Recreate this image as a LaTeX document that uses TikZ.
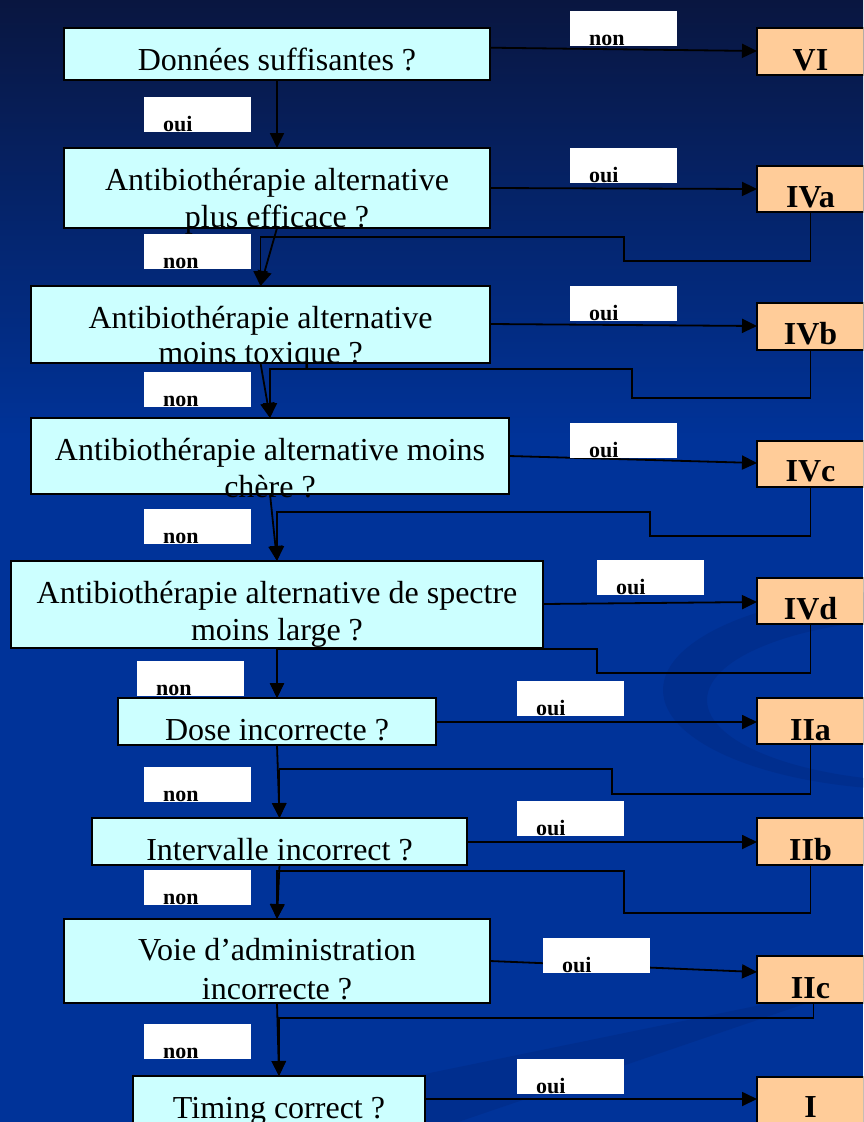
\documentclass[tikz,border=0pt]{standalone}
\usepackage{fontspec}
\setmainfont{Liberation Serif}
\usetikzlibrary{arrows.meta}
\definecolor{bgblue}{RGB}{0,51,153}
\definecolor{bgtop}{RGB}{9,22,64}
\definecolor{bgdark}{RGB}{0,45,140}
\definecolor{qfill}{RGB}{204,255,255}
\definecolor{rfill}{RGB}{255,204,153}
\tikzset{
 qbox/.style={draw=black, line width=2pt, fill=qfill, inner sep=0pt, outer sep=0pt},
 rbox/.style={draw=black, line width=2pt, fill=rfill, inner sep=0pt, outer sep=0pt},
 qtext/.style={font=\fontsize{32}{37}\selectfont, inner sep=0pt, anchor=base},
 rtext/.style={font=\fontsize{32}{37}\selectfont\bfseries, inner sep=0pt, anchor=base},
 lbl/.style={fill=white, inner sep=0pt, outer sep=0pt, minimum width=107pt, minimum height=35pt, anchor=north west},
 ltext/.style={font=\fontsize{22}{26}\selectfont\bfseries, inner sep=0pt, anchor=base west},
 conn/.style={line width=1.8pt, draw=black},
 arr/.style={conn, -{Triangle[length=15pt,width=14pt]}},
}
\newcommand\mkbox[6]{\node[#2, minimum width={#5-#3}, minimum height={#6-#4}] (#1) at ({(#3+#5)/2},{(#4+#6)/2}) {};}
\newcommand\mklbl[4]{\node[lbl] (#1) at (#2,#3) {};\node[ltext] (#1t) at ([xshift=19pt,yshift=1pt]#1.south west) {#4};}
\begin{document}
\begin{tikzpicture}[x=1pt,y=-1pt]
\useasboundingbox (0,0) rectangle (863,1122);
\clip (0,0) rectangle (863,1122);
% background
\fill[bgblue] (0,0) rectangle (863,1122);
\shade[top color=bgtop, bottom color=bgblue] (0,0) rectangle (863,440);
\fill[bgdark, opacity=0.8, even odd rule] (920,690) ellipse [x radius=257, y radius=100] (935,700) ellipse [x radius=228, y radius=82];
\fill[bgdark, opacity=0.8] (863,984) -- (420,1075) -- (420,1135) -- cycle;

% question boxes
\mkbox{b1}{qbox}{64}{28}{490}{80}
\mkbox{b2}{qbox}{64}{148}{490}{228}
\mkbox{b3}{qbox}{31}{286}{490}{363}
\mkbox{b4}{qbox}{31}{418}{509}{494}
\mkbox{b5}{qbox}{11}{561}{543}{648}
\mkbox{b6}{qbox}{118}{698}{436}{745}
\mkbox{b7}{qbox}{92}{818}{467}{865}
\mkbox{b8}{qbox}{64}{919}{490}{1003}
\mkbox{b9}{qbox}{133}{1076}{425}{1140}
% result boxes
\mkbox{r1}{rbox}{757}{28}{864}{75}
\mkbox{r2}{rbox}{757}{166}{864}{212}
\mkbox{r3}{rbox}{757}{303}{864}{350}
\mkbox{r4}{rbox}{757}{441}{864}{487}
\mkbox{r5}{rbox}{757}{578}{864}{624}
\mkbox{r6}{rbox}{757}{698}{864}{744}
\mkbox{r7}{rbox}{757}{818}{864}{865}
\mkbox{r8}{rbox}{757}{956}{864}{1003}
\mkbox{r9}{rbox}{757}{1077}{864}{1140}

% connectors: oui/non to results
\draw[arr] ([yshift=-19.7pt]b1.north east) -- ([yshift=-23pt]r1.north west);
\draw[arr] ([yshift=-40pt]b2.north east) -- ([yshift=-23pt]r2.north west);
\draw[arr] ([yshift=-38pt]b3.north east) -- ([yshift=-23pt]r3.north west);
\draw[arr] ([yshift=-38pt]b4.north east) -- ([yshift=-22pt]r4.north west);
\draw[arr] ([yshift=-43pt]b5.north east) -- ([yshift=-24pt]r5.north west);
\draw[arr] ([yshift=-24pt]b6.north east) -- ([yshift=-24pt]r6.north west);
\draw[arr] ([yshift=-24pt]b7.north east) -- ([yshift=-24pt]r7.north west);
\draw[arr] ([yshift=-42pt]b8.north east) -- ([yshift=-16pt]r8.north west);
\draw[arr] ([yshift=-23pt]b9.north east) -- ([yshift=-22pt]r9.north west);
% connectors: down the chain
\draw[arr] (b1.south) -- (b2.north);
\draw[arr] (b2.south) -- (b3.north);
\draw[arr] (b3.south) -- (b4.north);
\draw[arr] (b4.south) -- (b5.north);
\draw[arr] (b5.south) -- (b6.north);
\draw[arr] (b6.south) -- (b7.north);
\draw[arr] (b7.south) -- (b8.north);
\draw[arr] (b8.south) -- (b9.north);
% connectors: results back to the chain
\draw[arr] (r2.south) |- (624,261) -- (624,237) -| (b3.north);
\draw[arr] (r3.south) |- (632,398) -- (632,369) -| (b4.north);
\draw[arr] (r4.south) |- (650,536) -- (650,512) -| (b5.north);
\draw[arr] (r5.south) |- (597,673) -- (597,649) -| (b6.north);
\draw[arr] (r6.south) |- (612,794) -- (612,769) -| (b7.north);
\draw[arr] (r7.south) |- (624,913) -- (624,871) -| (b8.north);
\draw[arr] ([xshift=3pt]r8.south) -- ++(0,15) -| (b9.north);

% redraw boxes over connector ends
\mkbox{b1}{qbox}{64}{28}{490}{80}
\mkbox{b2}{qbox}{64}{148}{490}{228}
\mkbox{b3}{qbox}{31}{286}{490}{363}
\mkbox{b4}{qbox}{31}{418}{509}{494}
\mkbox{b5}{qbox}{11}{561}{543}{648}
\mkbox{b6}{qbox}{118}{698}{436}{745}
\mkbox{b7}{qbox}{92}{818}{467}{865}
\mkbox{b8}{qbox}{64}{919}{490}{1003}
\mkbox{b9}{qbox}{133}{1076}{425}{1140}
\mkbox{r1}{rbox}{757}{28}{864}{75}
\mkbox{r2}{rbox}{757}{166}{864}{212}
\mkbox{r3}{rbox}{757}{303}{864}{350}
\mkbox{r4}{rbox}{757}{441}{864}{487}
\mkbox{r5}{rbox}{757}{578}{864}{624}
\mkbox{r6}{rbox}{757}{698}{864}{744}
\mkbox{r7}{rbox}{757}{818}{864}{865}
\mkbox{r8}{rbox}{757}{956}{864}{1003}
\mkbox{r9}{rbox}{757}{1077}{864}{1140}

% question texts
\node[qtext] (t1) at ([yshift=-42pt]b1.north) {Données suffisantes ?};
\node[qtext] (t2a) at ([yshift=-42pt]b2.north) {Antibiothérapie alternative};
\node[qtext] (t2b) at ([yshift=-79pt]b2.north) {plus efficace ?};
\node[qtext] (t3a) at ([yshift=-42pt]b3.north) {Antibiothérapie alternative};
\node[qtext] (t3b) at ([yshift=-77pt]b3.north) {moins toxique ?};
\node[qtext] (t4a) at ([yshift=-42pt]b4.north) {Antibiothérapie alternative moins};
\node[qtext] (t4b) at ([yshift=-79pt]b4.north) {chère ?};
\node[qtext] (t5a) at ([yshift=-42pt]b5.north) {Antibiothérapie alternative de spectre};
\node[qtext] (t5b) at ([yshift=-79pt]b5.north) {moins large ?};
\node[qtext] (t6) at ([yshift=-42pt]b6.north) {Dose incorrecte ?};
\node[qtext] (t7) at ([yshift=-42pt]b7.north) {Intervalle incorrect ?};
\node[qtext] (t8a) at ([yshift=-41pt]b8.north) {Voie d’administration};
\node[qtext] (t8b) at ([yshift=-80pt]b8.north) {incorrecte ?};
\node[qtext] (t9) at ([yshift=-42pt]b9.north) {Timing correct ?};
% result texts
\node[rtext] (u1) at ([yshift=5pt]r1.south) {VI};
\node[rtext] (u2) at ([yshift=5pt]r2.south) {IVa};
\node[rtext] (u3) at ([yshift=6pt]r3.south) {IVb};
\node[rtext] (u4) at ([yshift=6pt]r4.south) {IVc};
\node[rtext] (u5) at ([yshift=5pt]r5.south) {IVd};
\node[rtext] (u6) at ([yshift=4pt]r6.south) {IIa};
\node[rtext] (u7) at ([yshift=5pt]r7.south) {IIb};
\node[rtext] (u8) at ([yshift=5pt]r8.south) {IIc};
\node[rtext] (u9) at (810.5,1117) {I};

% labels
\mklbl{l1}{570}{11}{non}
\mklbl{l2}{144}{97}{oui}
\mklbl{l3}{570}{148}{oui}
\mklbl{l4}{144}{234}{non}
\mklbl{l5}{570}{286}{oui}
\mklbl{l6}{144}{372}{non}
\mklbl{l7}{570}{423}{oui}
\mklbl{l8}{144}{509}{non}
\mklbl{l9}{597}{560}{oui}
\mklbl{l10}{137}{661}{non}
\mklbl{l11}{517}{681}{oui}
\mklbl{l12}{144}{767}{non}
\mklbl{l13}{517}{801}{oui}
\mklbl{l14}{144}{870}{non}
\mklbl{l15}{543}{938}{oui}
\mklbl{l16}{144}{1024}{non}
\mklbl{l17}{517}{1059}{oui}
\end{tikzpicture}
\end{document}
